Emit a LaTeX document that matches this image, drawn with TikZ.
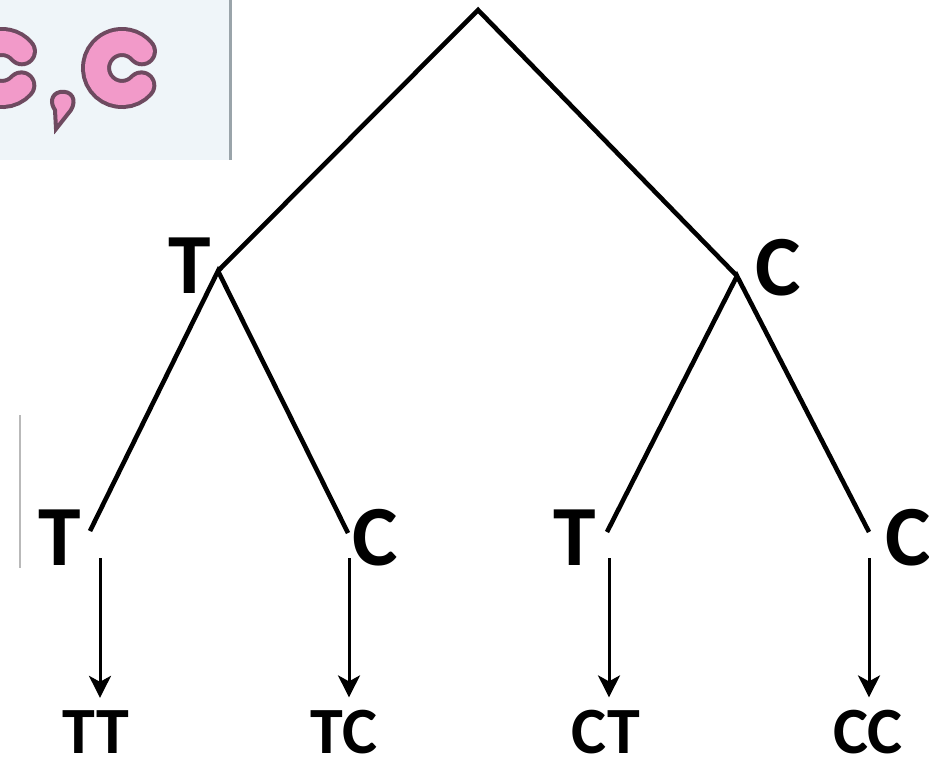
\documentclass[tikz,border=0pt]{standalone}
\usepackage{fontspec}
\setmainfont{Carlito}
\usetikzlibrary{arrows.meta}
\definecolor{cpink}{HTML}{F29AC9}
\definecolor{cplum}{HTML}{6E4A60}
\definecolor{cpanel}{HTML}{EFF5F9}
\definecolor{cedge}{HTML}{9AA4AA}
\tikzset{
  branch/.style={line width=0.115cm,draw=black,line join=miter},
  lvl/.style={font=\fontsize{61}{61}\selectfont\bfseries,anchor=base,inner sep=0pt},
  res/.style={font=\fontsize{47}{47}\selectfont\bfseries,anchor=base,inner sep=0pt},
  arr/.style={-{Stealth[length=0.55cm,width=0.55cm,inset=0.15cm]},line width=0.075cm,shorten >=0.3cm},
  cshape/.style={line cap=round},
}
\begin{document}
\begin{tikzpicture}[x=0.025cm,y=-0.025cm]
  \useasboundingbox (0,0) rectangle (929,759);
  \clip (0,0) rectangle (929,759);
  % panel with the coin faces (cut off)
  \fill[cpanel] (0,0) rectangle (230,160);
  \draw[cedge,line width=0.075cm] (230,0) -- (230,160);
  \foreach \cx in {2,122} {
    \draw[cshape,cplum,line width=0.75cm] (\cx,68) ++(42:26) arc[start angle=42,end angle=320,radius=26];
    \draw[cshape,cpink,line width=0.55cm] (\cx,68) ++(42:26) arc[start angle=42,end angle=320,radius=26];
  }
  \filldraw[fill=cpink,draw=cplum,line width=0.1cm] (60,92) .. controls (72,90) and (77,100) .. (71,110) -- (56,129) -- (55,110) .. controls (50,103) and (51,94) .. cycle;
  \draw[gray!55,line width=0.05cm] (20,415) -- (20,568);
  % tree
  \coordinate (root) at (478,10);
  \coordinate (nT) at (218,271);
  \coordinate (nC) at (737,276);
  \coordinate (eTT) at (90,531);
  \coordinate (eTC) at (348,533);
  \coordinate (eCT) at (607,532);
  \coordinate (eCC) at (869,532);
  \draw[branch] (nT) -- (root) -- (nC);
  \draw[branch] (eTT) -- (nT) -- (eTC);
  \draw[branch] (eCT) -- (nC) -- (eCC);
  \node[lvl] (lT) at (190,293) {T};
  \node[lvl] (lC) at (778,295) {C};
  \node[lvl] (lTT) at (60,565) {T};
  \node[lvl] (lTC) at (375,565) {C};
  \node[lvl] (lCT) at (575,565) {T};
  \node[lvl] (lCC) at (908,565) {C};
  % outcomes
  \foreach \n/\t/\x/\ax in {TT/TT/96/100, TC/TC/344/349, CT/CT/606/609, CC/CC/868/869} {
    \node[res] (o\n) at (\x,753) {\t};
    \coordinate (a\n) at (\ax,558);
    \draw[arr] (a\n) -- (a\n |- o\n.north);
  }
\end{tikzpicture}
\end{document}
